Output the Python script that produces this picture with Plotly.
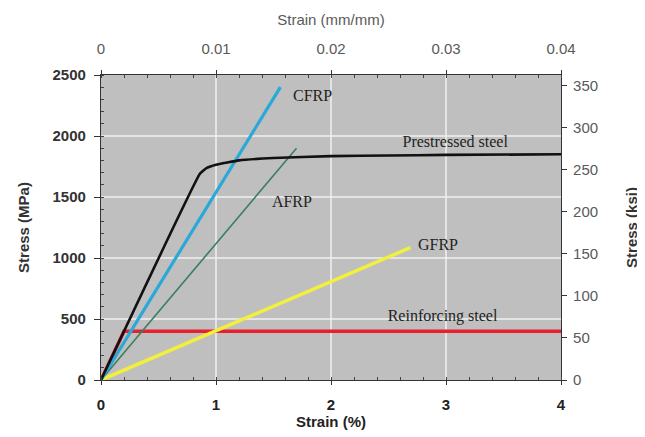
import plotly.graph_objects as go

# Data (strain in %, stress in MPa)
cfrp_x = [0, 1.56]
cfrp_y = [0, 2400]
afrp_x = [0, 1.70]
afrp_y = [0, 1900]
ps_x = [0, 0.86, 0.92, 1.0, 1.2, 1.5, 2.0, 2.5, 3.0, 4.0]
ps_y = [0, 1690, 1738, 1765, 1800, 1820, 1835, 1840, 1845, 1850]
gfrp_x = [0, 2.69]
gfrp_y = [0, 1085]
rs_x = [0, 0.2, 4.0]
rs_y = [0, 400, 400]

labels = ["CFRP", "AFRP", "Prestressed steel", "GFRP", "Reinforcing steel"]
label_x = [1.84, 1.66, 3.08, 2.93, 2.97]
label_y = [2320, 1450, 1940, 1095, 515]

bottom_ticks = [0, 1, 2, 3, 4]
top_ticks = [0, 0.01, 0.02, 0.03, 0.04]
left_ticks = [0, 500, 1000, 1500, 2000, 2500]
right_ticks = [0, 50, 100, 150, 200, 250, 300, 350]
MPA_PER_KSI = 6.895

fig = go.Figure()
fig.add_trace(go.Scatter(x=rs_x, y=rs_y, mode="lines", line=dict(color="#e8202c", width=3.5)))
fig.add_trace(go.Scatter(x=gfrp_x, y=gfrp_y, mode="lines", line=dict(color="#f2f03c", width=3.5)))
fig.add_trace(go.Scatter(x=afrp_x, y=afrp_y, mode="lines", line=dict(color="#3a7e60", width=1.6)))
fig.add_trace(go.Scatter(x=cfrp_x, y=cfrp_y, mode="lines", line=dict(color="#2aa8d8", width=3.2)))
fig.add_trace(go.Scatter(x=ps_x, y=ps_y, mode="lines", line=dict(color="#111111", width=2.6, shape="spline", smoothing=0.3)))
fig.add_trace(go.Scatter(x=label_x, y=label_y, mode="text", text=labels,
                         textfont=dict(family="Liberation Serif, serif", size=16, color="#222222")))

# invisible traces for secondary axes
fig.add_trace(go.Scatter(x=[0, 0.04], y=[None, None], xaxis="x2", yaxis="y", showlegend=False, hoverinfo="skip"))
fig.add_trace(go.Scatter(x=[None, None], y=[0, 350], xaxis="x", yaxis="y2", showlegend=False, hoverinfo="skip"))

grid = "rgba(240,240,240,0.75)"
fs = 15
fig.update_layout(
    width=645, height=437,
    margin=dict(l=93, r=92, t=67, b=65),
    paper_bgcolor="white", plot_bgcolor="#bfbfbf",
    showlegend=False,
    font=dict(family="Liberation Sans, Arial, sans-serif"),
    xaxis=dict(range=[0, 4], tickvals=bottom_ticks, ticktext=[f"<b>{t}</b>" for t in bottom_ticks],
               showgrid=True, gridcolor=grid, gridwidth=1.5, zeroline=False,
               showline=True, linecolor="#333333", linewidth=1.2,
               ticks="outside", ticklen=4, tickcolor="#333333", ticklabelstandoff=7,
               minor=dict(dtick=0.2, ticks="inside", ticklen=3, tickcolor="#444444", showgrid=False),
               tickfont=dict(size=fs, color="#222222"),
               title=dict(text="<b>Strain (%)</b>", font=dict(size=fs, color="#222222"), standoff=4)),
    xaxis2=dict(range=[0, 0.04], overlaying="x", side="top", tickvals=top_ticks,
                ticktext=["0", "0.01", "0.02", "0.03", "0.04"],
                showgrid=False, zeroline=False, showline=True, linecolor="#333333", linewidth=1.2,
                ticks="outside", ticklen=4, tickcolor="#333333", ticklabelstandoff=10,
                minor=dict(dtick=0.002, ticks="inside", ticklen=3, tickcolor="#444444"),
                tickfont=dict(size=fs, color="#5a5a5a"),
                title=dict(text="Strain (mm/mm)", font=dict(size=fs, color="#5a5a5a"), standoff=10)),
    yaxis=dict(range=[0, 2500], tickvals=left_ticks, ticktext=[f"<b>{t}</b>" for t in left_ticks],
               showgrid=True, gridcolor=grid, gridwidth=1.5, zeroline=False,
               showline=True, linecolor="#333333", linewidth=1.2,
               ticks="outside", ticklen=6, tickcolor="#333333", ticklabelstandoff=5,
               minor=dict(dtick=100, ticks="inside", ticklen=3, tickcolor="#444444", showgrid=False),
               tickfont=dict(size=fs, color="#333333"),
               title=dict(text="<b>Stress (MPa)</b>", font=dict(size=fs, color="#333333"), standoff=19)),
    yaxis2=dict(range=[0, 2500 / MPA_PER_KSI], overlaying="y", side="right", tickvals=right_ticks,
                ticktext=[str(t) for t in right_ticks],
                showgrid=False, zeroline=False, showline=True, linecolor="#333333", linewidth=1.2,
                ticks="outside", ticklen=5, tickcolor="#333333", ticklabelstandoff=3,
                tickfont=dict(size=fs, color="#5a5a5a"),
                title=dict(text="<b>Stress (ksi)</b>", font=dict(size=fs, color="#333333"), standoff=29)),
)

fig.write_html("out.html")
